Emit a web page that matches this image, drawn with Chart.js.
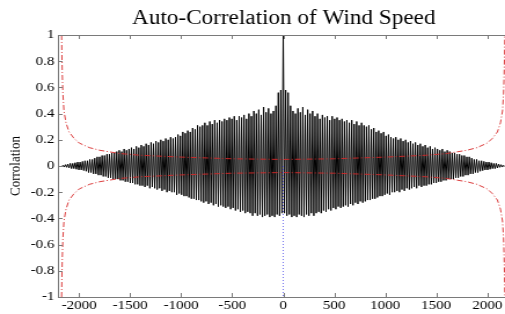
<!DOCTYPE html>
<html lang="en">
<head>
    <meta charset="UTF-8">
    <title>Auto-Correlation of Wind Speed</title>
    <script src="https://cdn.jsdelivr.net/npm/chart.js"></script>
    <style>
        body {
            margin: 0;
            background: white;
            overflow: hidden;
        }
        #acf {
            display: block;
            transform: scaleX(1.1583);
            transform-origin: 0 0;
        }
    </style>
</head>
<body>
    <canvas id="acf" width="440" height="314"></canvas>
    <script>
        // Auto-correlation, positive lags only (the ACF is symmetric).
        // One value per daily cycle: peaks at lags 0, 24, 48 ... and troughs at 12, 36, 60 ...
        const cycleLength = 24;
        const acfPeaks = [
            1.0,
            0.58, 0.56, 0.46,
            0.42, 0.40, 0.44, 0.41, 0.45, 0.39, 0.43, 0.40, 0.42,
            0.38, 0.40, 0.36, 0.39, 0.37, 0.38, 0.35, 0.38, 0.36, 0.37, 0.35,
            0.36, 0.34, 0.35, 0.33, 0.35, 0.32, 0.34, 0.31, 0.33,
            0.31, 0.30, 0.31, 0.28, 0.29, 0.26, 0.27, 0.25, 0.26, 0.23, 0.24, 0.22,
            0.21, 0.22, 0.20, 0.21, 0.19, 0.20, 0.18, 0.19, 0.17, 0.18, 0.16, 0.17,
            0.15, 0.16, 0.14, 0.15, 0.13, 0.14, 0.13, 0.12, 0.13, 0.11, 0.12, 0.11,
            0.10, 0.10, 0.09, 0.09, 0.08, 0.08, 0.07, 0.07, 0.06, 0.05, 0.05, 0.04,
            0.04, 0.035, 0.03, 0.03, 0.025, 0.02, 0.02, 0.015, 0.01, 0.005
        ];
        const acfTroughs = [
            -0.36, -0.38, -0.37, -0.39,
            -0.38, -0.39, -0.37, -0.38, -0.39, -0.37, -0.38, -0.36, -0.38,
            -0.36, -0.35, -0.36, -0.34, -0.35, -0.33, -0.34, -0.32, -0.33, -0.31, -0.32,
            -0.31, -0.30, -0.31, -0.29, -0.30, -0.28, -0.29, -0.27, -0.28,
            -0.27, -0.26, -0.26, -0.25, -0.25, -0.24, -0.23, -0.23, -0.22, -0.21, -0.22, -0.20,
            -0.20, -0.19, -0.20, -0.18, -0.19, -0.17, -0.18, -0.17, -0.16, -0.17, -0.15, -0.16,
            -0.15, -0.15, -0.14, -0.14, -0.13, -0.13, -0.12, -0.12, -0.11, -0.11, -0.10, -0.10,
            -0.10, -0.09, -0.09, -0.08, -0.08, -0.07, -0.07, -0.06, -0.06, -0.05, -0.05, -0.04,
            -0.035, -0.03, -0.03, -0.025, -0.02, -0.02, -0.015, -0.01, -0.008, -0.004
        ];

        // confidence bound (red dash-dot), positive lags
        const boundLags = [0, 500, 1000, 1400, 1600, 1800, 1900, 2000, 2050, 2100, 2130, 2150, 2160, 2166, 2170, 2173];
        const boundVals = [0.05, 0.055, 0.068, 0.082, 0.095, 0.12, 0.14, 0.175, 0.21, 0.26, 0.33, 0.42, 0.55, 0.7, 0.85, 1.0];

        // blue dotted marker at lag 0, below the axis
        const markerLag = 0;
        const markerRange = [0, -1];

        const xTicks = [-2000, -1500, -1000, -500, 0, 500, 1000, 1500, 2000];
        const yTicks = [-1, -0.8, -0.6, -0.4, -0.2, 0, 0.2, 0.4, 0.6, 0.8, 1];

        // build the symmetric series
        const half = [];
        acfPeaks.forEach((p, k) => {
            half.push({ x: k * cycleLength, y: p });
            if (k < acfTroughs.length) half.push({ x: k * cycleLength + cycleLength / 2, y: acfTroughs[k] });
        });
        const acfData = half.slice(1).reverse().map(pt => ({ x: -pt.x, y: pt.y })).concat(half);

        const boundHalf = boundLags.map((l, i) => ({ x: l, y: boundVals[i] }));
        const upperBound = boundHalf.slice(1).reverse().map(pt => ({ x: -pt.x, y: pt.y })).concat(boundHalf);
        const lowerBound = upperBound.map(pt => ({ x: pt.x, y: -pt.y }));

        const serif = 'Liberation Serif, Times New Roman, serif';
        const axisGray = '#7a7a7a';

        // MATLAB-style box with inward ticks
        const boxPlugin = {
            id: 'box',
            afterDatasetsDraw(chart) {
                const { ctx, chartArea: a, scales } = chart;
                ctx.save();
                ctx.strokeStyle = axisGray;
                ctx.lineWidth = 1;
                ctx.beginPath();
                ctx.rect(a.left + 0.5, a.top + 0.5, a.right - a.left, a.bottom - a.top);
                xTicks.forEach(t => {
                    const px = Math.round(scales.x.getPixelForValue(t)) + 0.5;
                    ctx.moveTo(px, a.bottom); ctx.lineTo(px, a.bottom - 4);
                    ctx.moveTo(px, a.top); ctx.lineTo(px, a.top + 4);
                });
                yTicks.forEach(t => {
                    const py = Math.round(scales.y.getPixelForValue(t)) + 0.5;
                    ctx.moveTo(a.left, py); ctx.lineTo(a.left + 4, py);
                    ctx.moveTo(a.right, py); ctx.lineTo(a.right - 4, py);
                });
                ctx.stroke();
                ctx.restore();
            }
        };

        new Chart(document.getElementById('acf'), {
            type: 'line',
            data: {
                datasets: [
                    {
                        data: acfData,
                        borderColor: '#000000',
                        borderWidth: 1,
                        pointRadius: 0,
                        tension: 0,
                        order: 3
                    },
                    {
                        data: upperBound,
                        borderColor: 'rgba(215,40,40,0.9)',
                        borderWidth: 1,
                        borderDash: [5, 2, 1, 2],
                        pointRadius: 0,
                        order: 2
                    },
                    {
                        data: lowerBound,
                        borderColor: 'rgba(215,40,40,0.9)',
                        borderWidth: 1,
                        borderDash: [5, 2, 1, 2],
                        pointRadius: 0,
                        order: 2
                    },
                    {
                        data: markerRange.map(v => ({ x: markerLag, y: v })),
                        borderColor: '#7070ee',
                        borderWidth: 1,
                        borderDash: [1, 2],
                        pointRadius: 0,
                        order: 1
                    }
                ]
            },
            options: {
                responsive: false,
                animation: false,
                events: [],
                layout: { padding: 0 },
                plugins: {
                    legend: { display: false },
                    tooltip: { enabled: false },
                    title: {
                        display: true,
                        text: 'Auto-Correlation of Wind Speed',
                        fullSize: false,
                        color: '#000',
                        font: { family: serif, size: 20, weight: 'normal' },
                        padding: { top: 7, bottom: 4 }
                    }
                },
                scales: {
                    x: {
                        type: 'linear',
                        min: -2209,
                        max: 2220,
                        grid: { display: false, drawTicks: false },
                        border: { display: false },
                        ticks: {
                            color: '#000',
                            font: { family: serif, size: 13 },
                            padding: 1,
                            maxRotation: 0,
                            autoSkip: false,
                            callback: v => String(v)
                        },
                        afterBuildTicks: s => { s.ticks = xTicks.map(v => ({ value: v })); },
                        afterFit: s => { s.height = 17; }
                    },
                    y: {
                        min: -1,
                        max: 1,
                        grid: { display: false, drawTicks: false },
                        border: { display: false },
                        ticks: {
                            color: '#000',
                            font: { family: serif, size: 13 },
                            padding: 3,
                            callback: v => String(Number(v.toFixed(1)))
                        },
                        afterBuildTicks: s => { s.ticks = yTicks.map(v => ({ value: v })); },
                        afterFit: s => { s.width = 50; },
                        title: {
                            display: true,
                            text: 'Corrolation',
                            color: '#000',
                            font: { family: serif, size: 13 },
                            padding: { top: 6, bottom: 0 }
                        }
                    }
                }
            },
            plugins: [boxPlugin]
        });
    </script>
</body>
</html>
